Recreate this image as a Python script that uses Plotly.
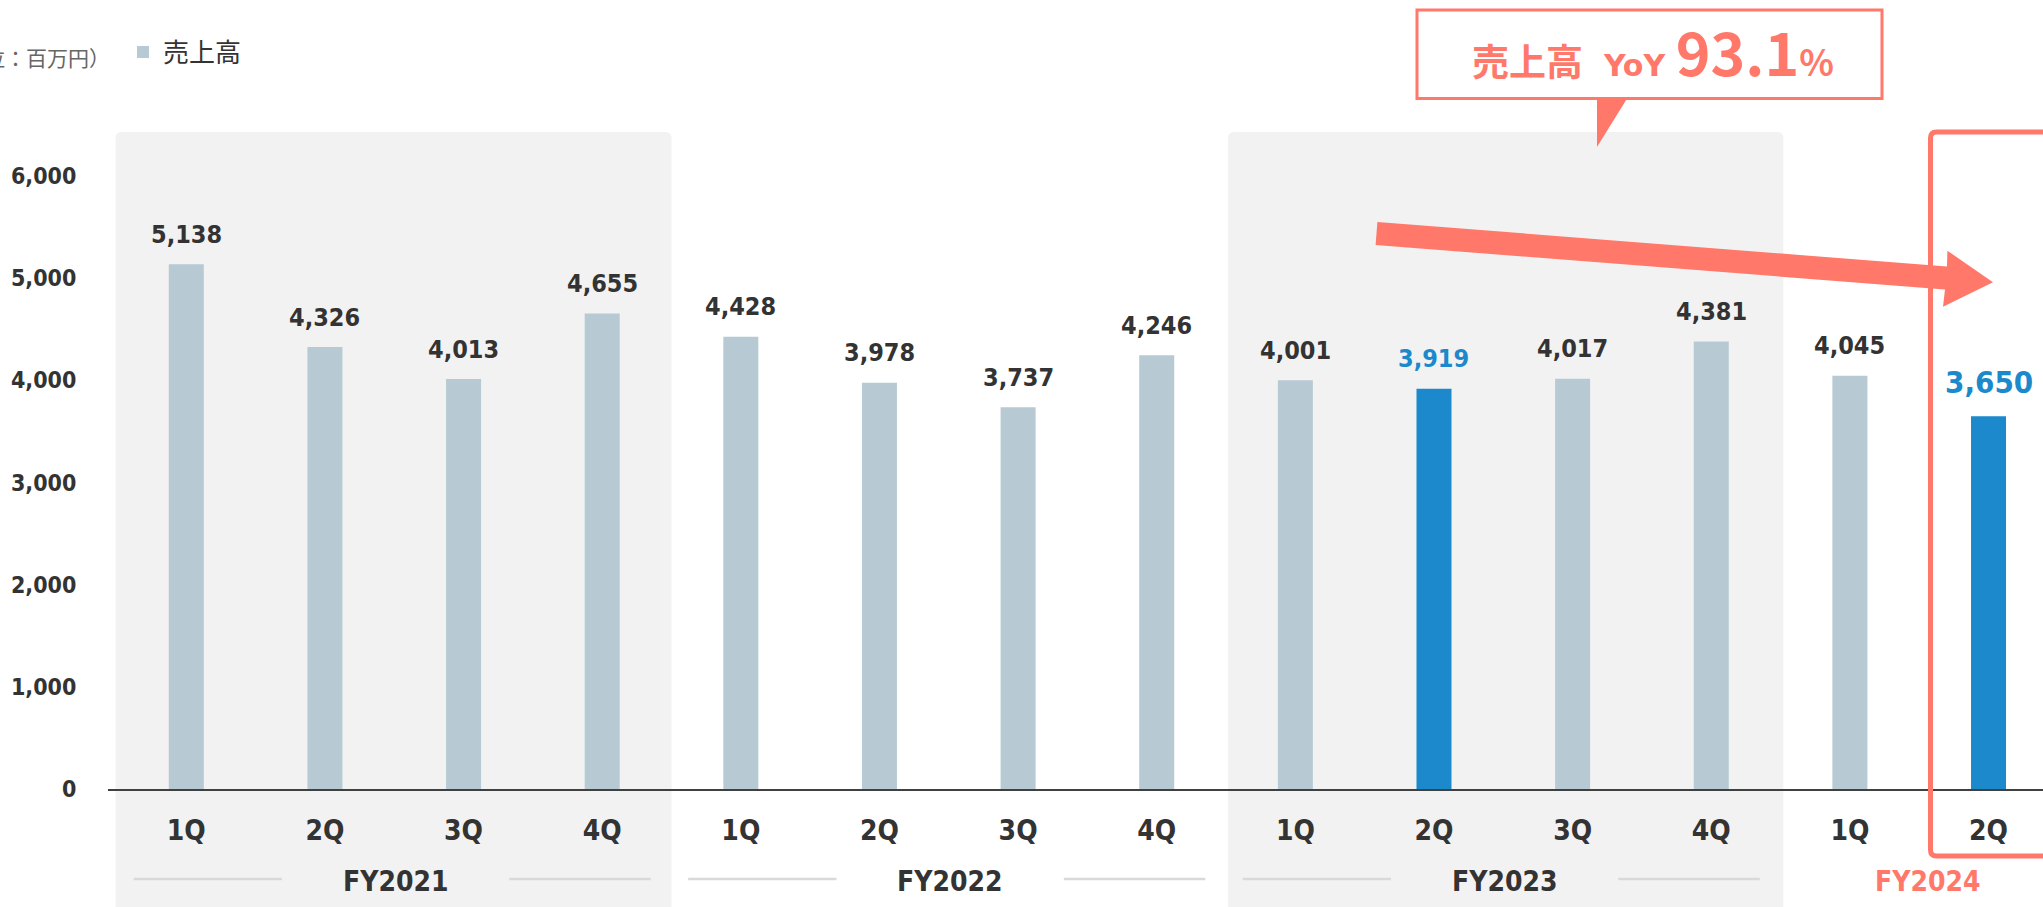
import plotly.graph_objects as go

# ---------------- data ----------------
fiscal_years = ["FY2021", "FY2022", "FY2023", "FY2024"]
quarters = ["1Q", "2Q", "3Q", "4Q", "1Q", "2Q", "3Q", "4Q", "1Q", "2Q", "3Q", "4Q", "1Q", "2Q"]
sales = [5138, 4326, 4013, 4655, 4428, 3978, 3737, 4246, 4001, 3919, 4017, 4381, 4045, 3650]
highlight_idx = [9, 13]
y_ticks = [0, 1000, 2000, 3000, 4000, 5000, 6000]
series_name = "売上高"
unit_label = "（単位：百万円）"
callout_yoy = "93.1"

# ---------------- styles ----------------
GRAY_BAR = "#b7c9d3"
BLUE = "#1b89cb"
SALMON = "#ff7869"
BAND = "#f2f2f2"
DARK = "#333333"
NUM_FONT = "DejaVu Sans Condensed, DejaVu Sans, sans-serif"
JP_FONT = "Noto Sans CJK JP, Noto Sans, sans-serif"

W_FIG, H_FIG = 2043, 907
L, R, T, B = 108, 0, 100, 118
PW = W_FIG - L - R
PH = H_FIG - T - B
Y_BOTTOM = H_FIG - B
YMAX = PH / 0.10215


def pxx(x):
    return (x - L) / PW


def pxy(y):
    return (Y_BOTTOM - y) / PH


x_idx = list(range(len(sales)))
colors = [BLUE if i in highlight_idx else GRAY_BAR for i in x_idx]

fig = go.Figure()
fig.add_trace(go.Bar(
    x=x_idx, y=sales, width=0.2525, name=series_name,
    marker=dict(color=colors, line=dict(width=0)),
    showlegend=True, hoverinfo="x+y",
))

shapes = []
annotations = []

# gray bands behind FY2021 and FY2023 (rounded top corners)
rx = 6 / 138.63
ry = 6 / PH
for (x0, x1) in [(-0.51, 3.5), (7.515, 11.52)]:
    yt = pxy(132)
    yb = pxy(920)
    path = (f"M{x0},{yb} L{x0},{yt - ry} Q{x0},{yt} {x0 + rx},{yt} "
            f"L{x1 - rx},{yt} Q{x1},{yt} {x1},{yt - ry} L{x1},{yb} Z")
    shapes.append(dict(type="path", path=path, xref="x", yref="paper",
                       fillcolor=BAND, line=dict(width=0), layer="below"))

# fiscal-year labels and separator lines
for g, fy in enumerate(fiscal_years):
    s = 4 * g - 0.5
    c = 4 * g + 1.5
    if g < 3:
        for (a, b) in [(s + 0.12, c - 0.81), (c + 0.83, s + 4 - 0.15)]:
            shapes.append(dict(type="line", xref="x", yref="paper", x0=a, x1=b,
                               y0=pxy(879), y1=pxy(879),
                               line=dict(color="#d9d9d9", width=2.5)))
        annotations.append(dict(x=c + 0.01, y=pxy(881), xref="x", yref="paper",
                                text=fy, showarrow=False, yanchor="middle",
                                font=dict(family=NUM_FONT, size=28, color=DARK, weight="bold")))
    else:
        annotations.append(dict(x=12.56, y=pxy(881), xref="x", yref="paper",
                                text=fy, showarrow=False, yanchor="middle",
                                font=dict(family=NUM_FONT, size=28, color=SALMON, weight="bold")))

# value labels
for i, v in enumerate(sales):
    big = (i == len(sales) - 1)
    annotations.append(dict(
        x=i, y=v, xref="x", yref="y", text=f"{v:,}", showarrow=False,
        yanchor="middle", yshift=34 if big else 30,
        font=dict(family=NUM_FONT, size=31 if big else 25,
                  color=BLUE if i in highlight_idx else DARK, weight="bold")))

# red frame around latest quarter
x0, x1 = pxx(1930.5), pxx(2070)
yt, yb = pxy(132), pxy(856)
r_x, r_y = 6 / PW, 6 / PH
frame = (f"M{x1},{yt} L{x0 + r_x},{yt} Q{x0},{yt} {x0},{yt - r_y} "
         f"L{x0},{yb + r_y} Q{x0},{yb} {x0 + r_x},{yb} L{x1},{yb}")
shapes.append(dict(type="path", path=frame, xref="paper", yref="paper",
                   line=dict(color=SALMON, width=5), layer="above"))

# trend arrow
arrow_pts = [(1377.4, 222), (1947, 266.5), (1947.4, 250.7), (1993, 282.3),
             (1943, 306.7), (1945, 289.5), (1375.6, 245)]
arrow_path = "M" + " L".join(f"{pxx(a)},{pxy(b)}" for a, b in arrow_pts) + " Z"
shapes.append(dict(type="path", path=arrow_path, xref="paper", yref="paper",
                   fillcolor=SALMON, line=dict(width=0), layer="above"))

# callout box
shapes.append(dict(type="rect", xref="paper", yref="paper",
                   x0=pxx(1417), x1=pxx(1882), y0=pxy(98.5), y1=pxy(10),
                   fillcolor="white", line=dict(color=SALMON, width=3)))
tri = [(1597, 97), (1628, 97), (1597, 147)]
tri_path = "M" + " L".join(f"{pxx(a)},{pxy(b)}" for a, b in tri) + " Z"
shapes.append(dict(type="path", path=tri_path, xref="paper", yref="paper",
                   fillcolor=SALMON, line=dict(width=0)))
callout_text = (f"<span style='font-size:37px'>{series_name}</span>"
                f"<span style='font-size:30px;font-family:DejaVu Sans'>&nbsp;&nbsp;YoY&nbsp;</span>"
                f"<span style='font-size:59px'>{callout_yoy}</span>"
                f"<span style='font-size:36px'>%</span>")
annotations.append(dict(x=pxx(1653), y=pxy(51), xref="paper", yref="paper",
                        text=callout_text, showarrow=False, xanchor="center", yanchor="middle",
                        font=dict(family=JP_FONT, size=33, color=SALMON, weight="bold")))

# unit label (clipped at the left edge as in the reference)
annotations.append(dict(x=pxx(112), y=pxy(57), xref="paper", yref="paper",
                        text=unit_label, showarrow=False, xanchor="right", yanchor="middle",
                        font=dict(family=JP_FONT, size=21, color="#666666")))

fig.update_layout(
    width=W_FIG, height=H_FIG,
    margin=dict(l=L, r=R, t=T, b=B, pad=0),
    plot_bgcolor="rgba(0,0,0,0)", paper_bgcolor="white",
    shapes=shapes, annotations=annotations,
    bargap=0.75,
    legend=dict(x=pxx(123), xanchor="left", y=pxy(52), yanchor="middle",
                orientation="h", bgcolor="rgba(0,0,0,0)",
                font=dict(family=JP_FONT, size=26, color=DARK)),
    xaxis=dict(range=[-0.5648, 13.393], tickmode="array", tickvals=x_idx, ticktext=quarters,
               showgrid=False, zeroline=False, showline=True, linecolor="#404040", linewidth=2,
               ticks="outside", ticklen=15, tickcolor="rgba(0,0,0,0)",
               tickfont=dict(family=NUM_FONT, size=28, color=DARK, weight="bold")),
    yaxis=dict(range=[0, YMAX], tickmode="array", tickvals=y_ticks, tickformat=",",
               showgrid=False, zeroline=False, showline=False,
               ticks="outside", ticklen=26, tickcolor="rgba(0,0,0,0)",
               tickfont=dict(family=NUM_FONT, size=23, color=DARK, weight="bold")),
)

fig.write_html("out.html", config={"displayModeBar": False},
               post_script="document.body.style.margin='0px';document.body.style.overflow='hidden';")
